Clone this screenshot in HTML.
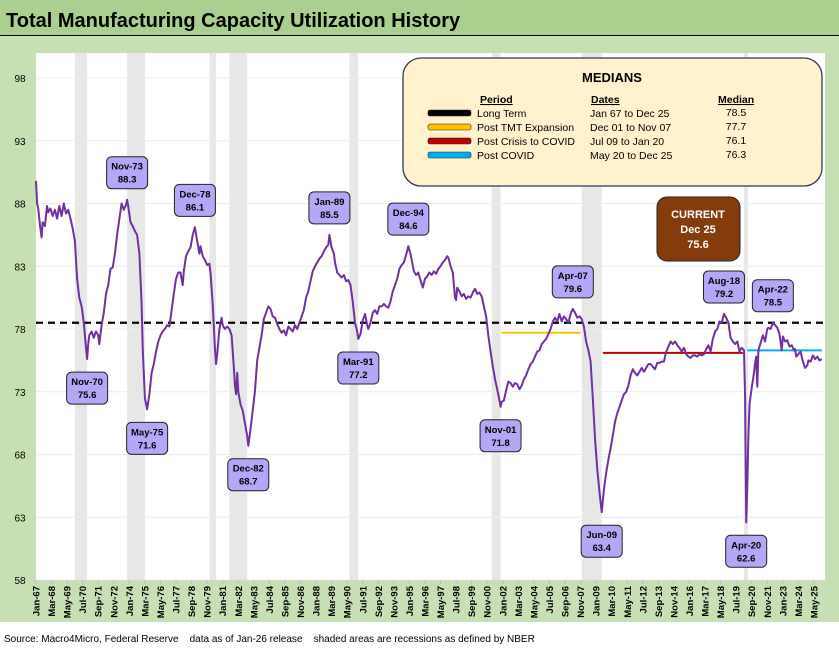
<!DOCTYPE html>
<html><head><meta charset="utf-8"><style>
html,body{margin:0;padding:0;background:#fff;}
body{width:839px;height:649px;overflow:hidden;font-family:"Liberation Sans",sans-serif;}
</style></head><body>
<svg id="chart" width="839" height="649" viewBox="0 0 839 649" xmlns="http://www.w3.org/2000/svg" font-family="Liberation Sans, sans-serif">
<rect x="0" y="0" width="839" height="622" fill="#c6e0b4"/>
<rect x="0" y="0" width="839" height="35" fill="#a9d08e"/>
<line x1="0" y1="35.5" x2="839" y2="35.5" stroke="#000" stroke-width="1"/>
<text x="6" y="27" font-size="20" font-weight="bold" fill="#000">Total Manufacturing Capacity Utilization History</text>
<rect x="36" y="53" width="789" height="527" fill="#fff"/>
<g id="rec"></g><g id="grid"></g><g id="ylab"></g><g id="xlab"></g><g id="med"></g><g id="series"></g><g id="ann"></g>
<g>
<rect x="403" y="58" width="419" height="128" rx="18" fill="#fff2cc" stroke="#2f3b55" stroke-width="1.3"/>
<text x="612" y="82" text-anchor="middle" font-size="13" font-weight="bold">MEDIANS</text>
<g font-size="10.5" font-weight="bold" text-decoration="underline"><text x="480" y="103">Period</text><text x="591" y="103">Dates</text><text x="718" y="103">Median</text></g>
<g id="legrows"></g>
</g>
<g>
<rect x="657" y="197" width="83" height="64" rx="10" fill="#843c0c" stroke="#222" stroke-width="1"/>
<text x="698" y="218" text-anchor="middle" fill="#fff" font-size="11" font-weight="bold">CURRENT</text>
<text x="698" y="233" text-anchor="middle" fill="#fff" font-size="11" font-weight="bold">Dec 25</text>
<text x="698" y="248" text-anchor="middle" fill="#fff" font-size="11" font-weight="bold">75.6</text>
</g>
<text x="4" y="642" font-size="10" fill="#000">Source: Macro4Micro, Federal Reserve &#160;&#160; data as of Jan-26 release &#160;&#160; shaded areas are recessions as defined by NBER</text>
</svg>
<script>
const dates=["1967-01","1967-02","1967-03","1967-05","1967-06","1967-07","1967-09","1967-11","1967-12","1968-02","1968-04","1968-06","1968-08","1968-10","1968-12","1969-02","1969-04","1969-06","1969-08","1969-10","1969-12","1970-02","1970-04","1970-06","1970-08","1970-10","1970-11","1970-12","1971-01","1971-03","1971-05","1971-07","1971-09","1971-10","1971-12","1972-02","1972-04","1972-06","1972-08","1972-10","1972-12","1973-02","1973-04","1973-06","1973-08","1973-10","1973-11","1973-12","1974-02","1974-04","1974-06","1974-08","1974-10","1974-12","1975-01","1975-03","1975-05","1975-07","1975-09","1975-11","1976-01","1976-03","1976-05","1976-07","1976-09","1976-11","1977-01","1977-03","1977-05","1977-07","1977-09","1977-11","1978-01","1978-02","1978-04","1978-06","1978-08","1978-10","1978-12","1979-02","1979-04","1979-05","1979-07","1979-09","1979-11","1980-01","1980-02","1980-04","1980-06","1980-07","1980-08","1980-10","1980-12","1981-01","1981-03","1981-05","1981-07","1981-09","1981-11","1981-12","1982-01","1982-02","1982-03","1982-05","1982-07","1982-09","1982-11","1982-12","1983-02","1983-04","1983-06","1983-08","1983-10","1983-12","1984-02","1984-04","1984-06","1984-08","1984-10","1984-12","1985-02","1985-04","1985-06","1985-08","1985-10","1985-12","1986-02","1986-04","1986-06","1986-08","1986-10","1986-12","1987-02","1987-04","1987-06","1987-08","1987-10","1987-12","1988-02","1988-04","1988-06","1988-08","1988-10","1988-12","1989-01","1989-03","1989-05","1989-06","1989-08","1989-10","1989-12","1990-02","1990-04","1990-06","1990-08","1990-10","1990-12","1991-02","1991-03","1991-05","1991-07","1991-09","1991-11","1991-12","1992-02","1992-04","1992-06","1992-08","1992-10","1992-12","1993-02","1993-04","1993-06","1993-08","1993-10","1993-12","1994-02","1994-04","1994-06","1994-08","1994-10","1994-12","1995-02","1995-03","1995-05","1995-07","1995-09","1995-11","1996-01","1996-03","1996-05","1996-07","1996-09","1996-11","1997-01","1997-03","1997-05","1997-07","1997-09","1997-11","1997-12","1998-02","1998-04","1998-05","1998-06","1998-07","1998-08","1998-10","1998-12","1999-02","1999-04","1999-06","1999-08","1999-10","1999-12","2000-02","2000-04","2000-06","2000-08","2000-10","2000-12","2001-02","2001-04","2001-06","2001-08","2001-10","2001-11","2001-12","2002-02","2002-04","2002-06","2002-08","2002-10","2002-12","2003-02","2003-04","2003-06","2003-08","2003-10","2003-12","2004-02","2004-04","2004-06","2004-08","2004-10","2004-12","2005-02","2005-04","2005-06","2005-08","2005-10","2005-12","2006-02","2006-04","2006-06","2006-08","2006-10","2006-12","2007-02","2007-04","2007-06","2007-08","2007-10","2007-12","2008-02","2008-04","2008-06","2008-08","2008-10","2008-12","2009-02","2009-04","2009-06","2009-08","2009-10","2009-12","2010-02","2010-04","2010-06","2010-08","2010-10","2010-12","2011-02","2011-04","2011-06","2011-08","2011-10","2011-12","2012-02","2012-04","2012-06","2012-08","2012-10","2012-12","2013-02","2013-04","2013-06","2013-08","2013-10","2013-12","2014-02","2014-04","2014-06","2014-08","2014-10","2014-12","2015-02","2015-04","2015-06","2015-08","2015-10","2015-12","2016-02","2016-04","2016-06","2016-08","2016-10","2016-12","2017-02","2017-04","2017-06","2017-08","2017-10","2017-12","2018-02","2018-04","2018-06","2018-08","2018-10","2018-12","2019-02","2019-04","2019-06","2019-08","2019-10","2019-12","2020-02","2020-03","2020-04","2020-05","2020-06","2020-07","2020-09","2020-11","2020-12","2021-01","2021-02","2021-03","2021-05","2021-07","2021-09","2021-11","2021-12","2022-02","2022-04","2022-06","2022-08","2022-10","2022-12","2023-01","2023-03","2023-05","2023-07","2023-09","2023-11","2023-12","2024-01","2024-03","2024-05","2024-07","2024-09","2024-11","2024-12","2025-02","2025-04","2025-06","2025-08","2025-10","2025-12"];
const values=[89.8,88.0,87.6,86.0,85.3,86.5,86.2,87.8,87.3,87.6,87.0,87.5,86.8,87.8,87.0,88.0,87.2,87.5,86.8,86.0,85.0,82.0,80.5,79.8,78.5,76.5,75.6,76.8,77.5,77.8,77.3,77.8,77.5,76.8,78.3,79.3,80.8,81.5,82.8,82.9,84.0,85.5,86.8,88.0,87.5,87.9,88.3,87.8,86.5,86.2,85.8,85.5,84.0,80.0,76.5,72.5,71.6,72.8,74.5,75.2,76.2,77.0,77.5,77.8,78.0,78.3,78.2,79.5,80.8,82.0,82.5,82.5,81.5,82.6,83.8,84.2,84.5,85.5,86.1,85.0,84.0,84.6,83.8,83.5,83.1,83.2,82.5,80.0,76.5,75.2,76.0,78.0,78.9,78.3,78.0,78.2,78.0,77.5,75.0,73.5,72.8,74.5,73.0,72.0,71.5,70.5,69.5,68.7,70.0,71.5,73.0,75.5,76.5,77.5,78.8,79.3,79.8,79.6,79.0,78.9,78.4,78.0,77.7,77.9,77.5,78.2,78.0,77.8,78.3,78.0,78.5,79.0,79.5,80.5,81.0,81.8,82.6,83.0,83.3,83.6,83.8,84.2,84.5,84.7,85.5,84.5,84.0,83.3,82.5,82.3,82.1,82.3,81.8,81.9,81.5,80.2,78.5,77.8,77.2,77.6,78.7,79.2,78.3,78.0,78.5,79.3,79.5,79.2,79.8,79.8,80.0,79.8,79.7,80.2,81.0,81.5,82.0,82.8,83.1,83.3,83.9,84.6,84.0,83.5,82.6,82.3,82.5,81.9,81.3,82.0,82.2,82.5,82.3,82.6,82.4,82.8,83.0,83.3,83.5,83.8,83.7,83.0,82.5,81.5,80.5,80.3,81.3,81.0,80.6,80.8,80.4,80.6,80.5,80.9,81.2,80.8,80.9,80.6,79.8,79.0,77.5,76.2,75.0,74.0,73.2,72.3,71.8,72.2,72.3,73.1,73.8,73.7,73.4,73.7,73.6,73.2,73.5,74.0,74.3,74.8,75.2,75.4,75.8,76.2,76.3,76.8,77.0,77.2,77.6,78.0,78.6,78.9,78.6,79.2,78.6,79.0,78.8,78.5,79.2,79.6,79.3,78.9,79.0,78.8,78.2,77.0,76.3,75.4,72.5,69.3,66.8,65.0,63.4,65.2,66.5,67.6,68.5,69.5,70.6,71.3,71.8,72.3,72.8,73.0,73.5,74.3,74.8,74.5,74.3,74.6,74.9,74.6,74.9,75.2,75.2,75.0,74.8,75.3,75.3,75.4,75.4,76.2,76.6,77.0,76.8,77.0,76.7,76.5,76.2,76.5,76.0,75.8,75.7,75.9,75.9,75.8,76.0,75.9,76.0,76.4,76.7,76.2,77.2,77.8,78.0,78.6,78.5,79.2,78.9,78.5,77.3,77.0,76.8,77.0,76.2,76.5,76.3,72.6,62.6,65.5,69.5,72.0,73.3,74.5,75.3,75.8,73.4,76.3,76.9,77.5,77.0,78.0,78.1,78.0,78.5,78.3,78.1,77.6,76.3,77.4,77.0,77.1,76.6,76.7,76.3,76.4,75.8,76.0,76.2,75.4,74.9,75.1,75.5,75.4,75.9,75.6,75.8,75.5,75.6];
const yTicks=[58,63,68,73,78,83,88,93,98];
const recStart=["1969-12","1973-11","1980-01","1981-07","1990-07","2001-03","2007-12","2020-02"];
const recEnd=["1970-11","1975-03","1980-07","1982-11","1991-03","2001-11","2009-06","2020-04"];
const medNames=["Long Term","Post TMT Expansion","Post Crisis to COVID","Post COVID"];
const medStart=["1967-01","2001-12","2009-07","2020-05"];
const medEnd=["2025-12","2007-11","2020-01","2025-12"];
const medVals=[78.5,77.7,76.1,76.3];
const medDates=["Jan 67 to Dec 25","Dec 01 to Nov 07","Jul 09 to Jan 20","May 20 to Dec 25"];
const medColors=["#000000","#ffc000","#c00000","#00b0f0"];
const annDates=["1970-11","1973-11","1975-05","1978-12","1982-12","1989-01","1991-03","1994-12","2001-11","2007-04","2009-06","2018-08","2020-04","2022-04"];
const annVals=[75.6,88.3,71.6,86.1,68.7,85.5,77.2,84.6,71.8,79.6,63.4,79.2,62.6,78.5];
const annAbove=[false,true,false,true,false,true,false,true,false,true,false,true,false,true];
const MN=["Jan","Feb","Mar","Apr","May","Jun","Jul","Aug","Sep","Oct","Nov","Dec"];
const NS="http://www.w3.org/2000/svg";
const X0=36,PX=1.1114,YB=580,YS=12.55;
function mi(d){const p=d.split("-");return (+p[0]-1967)*12+(+p[1]-1);}
function xS(m){return X0+m*PX;}
function yS(v){return YB-(v-58)*YS;}
function mk(t,a,parent){const e=document.createElementNS(NS,t);for(const k in a)e.setAttribute(k,a[k]);document.getElementById(parent).appendChild(e);return e;}
for(let i=0;i<recStart.length;i++){
 const x1=xS(mi(recStart[i])),x2=xS(mi(recEnd[i]));
 const r=mk("rect",{x:x1,y:53,width:Math.max(x2-x1,4),height:527,fill:"#e7e7e7"},"rec");
 
 
}
yTicks.forEach(v=>{
 if(v>58){const g=mk("line",{x1:36,x2:825,y1:yS(v),y2:yS(v),stroke:"#ececec","stroke-width":1},"grid");
 
 }
 const t=mk("text",{x:20,y:yS(v)+4,"font-size":10,"text-anchor":"middle",fill:"#000"},"ylab");
 t.textContent=v;
 
 
});
const ax=mk("line",{x1:36,x2:825,y1:580.5,y2:580.5,stroke:"#d9d9d9","stroke-width":1},"grid");


for(let m=0;m<=707;m+=14){
 const yr=1967+Math.floor(m/12),mo=m%12;
 const lab=MN[mo]+"-"+String(yr%100).padStart(2,"0");
 const x=xS(m);
 const tk=mk("line",{x1:x,x2:x,y1:580,y2:584,stroke:"#bfbfbf"},"xlab");
 
 
 const t=mk("text",{x:0,y:0,"font-size":9.5,"font-weight":"bold","text-anchor":"end",transform:"translate("+(x+3.5)+",586) rotate(-90)"},"xlab");
 t.textContent=lab;
 
 
}
for(let i=0;i<medVals.length;i++){
 const a={x1:xS(mi(medStart[i])),x2:i==0?825:xS(mi(medEnd[i])),y1:yS(medVals[i]),y2:yS(medVals[i]),stroke:medColors[i],"stroke-width":i==0?2.2:2};
 if(i==0)a["stroke-dasharray"]="7,5";
 const l=mk("line",a,"med");
 
 
 const ry=114+i*14;
 const sw=mk("rect",{x:428,y:ry-4,width:43,height:6,rx:2,fill:medColors[i],stroke:"#222","stroke-width":0.6},"legrows");
 
 
 const t1=mk("text",{x:477,y:ry+3,"font-size":10.5},"legrows");t1.textContent=medNames[i];
 
 
 const t2=mk("text",{x:590,y:ry+3,"font-size":10.5},"legrows");t2.textContent=medDates[i];
 
 
 const t3=mk("text",{x:736,y:ry+2,"font-size":10.5,"text-anchor":"middle"},"legrows");t3.textContent=medVals[i].toFixed(1);
 
 
}
let d="";
for(let i=0;i<dates.length;i++){d+=(i?"L":"M")+xS(mi(dates[i])).toFixed(1)+","+yS(values[i]).toFixed(1);}
const p=mk("path",{d:d,fill:"none",stroke:"#7030a0","stroke-width":2,"stroke-linejoin":"round"},"series");


for(let i=0;i<annDates.length;i++){
 const x=xS(mi(annDates[i])),y=yS(annVals[i]);
 const cy=annAbove[i]?y-27:y+29;
 const g=mk("g",{},"ann");
 
 
 const r=document.createElementNS(NS,"rect");
 r.setAttribute("x",x-20.5);r.setAttribute("y",cy-16);r.setAttribute("width",41);r.setAttribute("height",32);r.setAttribute("rx",5);
 r.setAttribute("fill","#b4a7f8");r.setAttribute("stroke","#222");r.setAttribute("stroke-width",1);g.appendChild(r);
 const dd=annDates[i].split("-");
 const t1=document.createElementNS(NS,"text");t1.setAttribute("x",x);t1.setAttribute("y",cy-3);t1.setAttribute("text-anchor","middle");t1.setAttribute("font-size",9.5);t1.setAttribute("font-weight","bold");
 t1.textContent=MN[+dd[1]-1]+"-"+dd[0].slice(2);g.appendChild(t1);
 const t2=document.createElementNS(NS,"text");t2.setAttribute("x",x);t2.setAttribute("y",cy+10);t2.setAttribute("text-anchor","middle");t2.setAttribute("font-size",9.5);t2.setAttribute("font-weight","bold");
 t2.textContent=annVals[i].toFixed(1);g.appendChild(t2);
}
</script>
</body></html>
